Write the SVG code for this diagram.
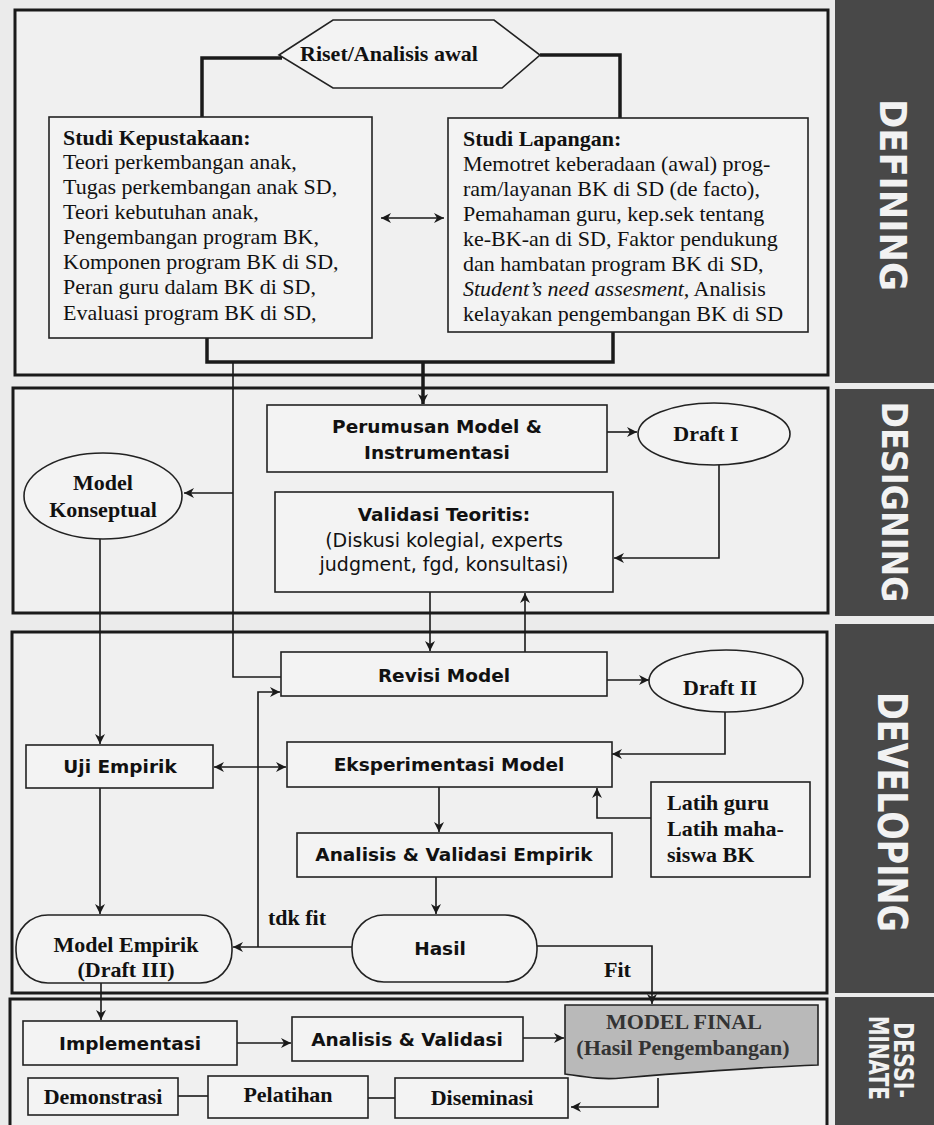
<svg xmlns="http://www.w3.org/2000/svg" width="934" height="1125" viewBox="0 0 934 1125">
<defs>
<style>
.frame{fill:#f0f0f0;stroke:#1a1a1a;stroke-width:3}
.box{fill:#f3f3f3;stroke:#222;stroke-width:1.6}
.ln{fill:none;stroke:#1a1a1a;stroke-width:1.6}
.thick{stroke-width:3.5}
.bar{fill:#484848}
.bt{font-family:"DejaVu Sans",Verdana,sans-serif;font-weight:bold;fill:#f2f2f2}
.s{font-family:"Liberation Serif","Times New Roman",serif;font-size:22px;fill:#111}
.sb{font-family:"Liberation Serif","Times New Roman",serif;font-size:22px;font-weight:bold;fill:#111}
.v{font-family:"DejaVu Sans",Verdana,sans-serif;font-size:18.5px;font-weight:bold;fill:#111}
.vr{font-family:"DejaVu Sans",Verdana,sans-serif;font-size:19px;fill:#111}
.m{text-anchor:middle}
</style>
<marker id="ah" markerUnits="userSpaceOnUse" markerWidth="12" markerHeight="10" refX="10" refY="5" orient="auto-start-reverse">
<path d="M0,0 L10,5 L0,10 L3,5 Z" fill="#1a1a1a"/>
</marker>
</defs>
<rect x="0" y="0" width="934" height="1125" fill="#ebebeb"/>

<g id="phase-bars">
<rect class="bar" x="835" y="0" width="99" height="383"/>
<rect class="bar" x="835" y="389" width="99" height="227"/>
<rect class="bar" x="835" y="624" width="99" height="369"/>
<rect class="bar" x="835" y="997" width="99" height="128"/>
<text class="bt" font-size="38" transform="translate(880,195) rotate(90)" text-anchor="middle" textLength="192" lengthAdjust="spacingAndGlyphs">DEFINING</text>
<text class="bt" font-size="35" transform="translate(882,502) rotate(90)" text-anchor="middle" textLength="201" lengthAdjust="spacingAndGlyphs">DESIGNING</text>
<text class="bt" font-size="40" transform="translate(878,812) rotate(90)" text-anchor="middle" textLength="240" lengthAdjust="spacingAndGlyphs">DEVELOPING</text>
<text class="bt" font-size="26" transform="translate(894,1060) rotate(90)" text-anchor="middle" textLength="76" lengthAdjust="spacingAndGlyphs">DESSI-</text>
<text class="bt" font-size="26" transform="translate(869,1058) rotate(90)" text-anchor="middle" textLength="84" lengthAdjust="spacingAndGlyphs">MINATE</text>
</g>

<g id="phase-frames">
<rect class="frame" x="15" y="10" width="813" height="365"/>
<rect class="frame" x="13" y="388" width="815" height="225"/>
<rect class="frame" x="12" y="632" width="815" height="361"/>
<rect class="frame" x="10" y="999" width="817" height="140"/>
</g>

<g id="connectors">
<path class="ln thick" d="M282,58 H202 V117"/>
<path class="ln thick" d="M540,55 H620 V118"/>
<path class="ln thick" d="M207,338 V362 H613 V332"/>
<path class="ln thick" d="M423,362 V404" marker-end="url(#ah)"/>
<path class="ln" d="M233,362 V677 H281"/>
<path class="ln" d="M233,493 H184" marker-end="url(#ah)"/>
<path class="ln" d="M381,218 H444" marker-start="url(#ah)" marker-end="url(#ah)"/>
<path class="ln" d="M607,432 H637" marker-end="url(#ah)"/>
<path class="ln" d="M719,465 V558 H614" marker-end="url(#ah)"/>
<path class="ln" d="M430,592 V651" marker-end="url(#ah)"/>
<path class="ln" d="M525,652 V593" marker-end="url(#ah)"/>
<path class="ln" d="M100,539 V744" marker-end="url(#ah)"/>
<path class="ln" d="M607,680 H649" marker-end="url(#ah)"/>
<path class="ln" d="M725,712 V754 H612" marker-end="url(#ah)"/>
<path class="ln" d="M214,767 H286" marker-start="url(#ah)" marker-end="url(#ah)"/>
<path class="ln" d="M651,818 H597 V788" marker-end="url(#ah)"/>
<path class="ln" d="M439,787 V832" marker-end="url(#ah)"/>
<path class="ln" d="M436,877 V914" marker-end="url(#ah)"/>
<path class="ln" d="M352,947 H233" marker-end="url(#ah)"/>
<path class="ln" d="M258,947 V692 H280" marker-end="url(#ah)"/>
<path class="ln" d="M100,788 V914" marker-end="url(#ah)"/>
<path class="ln" d="M537,946 H652 V1004" marker-end="url(#ah)"/>
<path class="ln" d="M101,983 V1020" marker-end="url(#ah)"/>
<path class="ln" d="M237,1043 H291" marker-end="url(#ah)"/>
<path class="ln" d="M523,1038 H564" marker-end="url(#ah)"/>
<path class="ln" d="M658,1078 V1107 H571" marker-end="url(#ah)"/>
<path class="ln" d="M178,1096 H208"/>
<path class="ln" d="M368,1098 H395"/>
<text class="sb" x="268" y="925" font-size="21">tdk fit</text>
<text class="sb" x="604" y="977" font-size="21">Fit</text>
</g>

<g id="riset">
<polygon class="box" points="279,55 333,20 494,20 540,55 502,88 333,88"/>
<text class="sb m" x="389" y="61">Riset/Analisis awal</text>
</g>

<g id="studi-kepustakaan">
<rect class="box" x="49" y="117" width="323" height="221"/>
<text class="sb" x="63" y="145">Studi Kepustakaan:</text>
<text class="s" x="63" y="169">Teori perkembangan anak,</text>
<text class="s" x="63" y="194">Tugas perkembangan anak SD,</text>
<text class="s" x="63" y="219">Teori kebutuhan anak,</text>
<text class="s" x="63" y="244">Pengembangan program BK,</text>
<text class="s" x="63" y="269">Komponen program BK di SD,</text>
<text class="s" x="63" y="294">Peran guru dalam BK di SD,</text>
<text class="s" x="63" y="320">Evaluasi program BK di SD,</text>
</g>

<g id="studi-lapangan">
<rect class="box" x="448" y="118" width="360" height="214"/>
<text class="sb" x="463" y="146">Studi Lapangan:</text>
<text class="s" x="463" y="171">Memotret keberadaan (awal) prog-</text>
<text class="s" x="463" y="196">ram/layanan BK di SD (de facto),</text>
<text class="s" x="463" y="221">Pemahaman guru, kep.sek tentang</text>
<text class="s" x="463" y="246">ke-BK-an di SD, Faktor pendukung</text>
<text class="s" x="463" y="271">dan hambatan program BK di SD,</text>
<text class="s" x="463" y="296"><tspan font-style="italic">Student’s need assesment,</tspan> Analisis</text>
<text class="s" x="463" y="321">kelayakan pengembangan BK di SD</text>
</g>

<g id="model-konseptual">
<ellipse class="box" cx="103" cy="496" rx="79" ry="43"/>
<text class="sb m" x="103" y="490">Model</text>
<text class="sb m" x="103" y="517">Konseptual</text>
</g>

<g id="perumusan">
<rect class="box" x="267" y="405" width="340" height="67"/>
<text class="v m" x="437" y="433">Perumusan Model &amp;</text>
<text class="v m" x="437" y="459">Instrumentasi</text>
</g>

<g id="draft-1">
<ellipse class="box" cx="714" cy="434" rx="76" ry="31"/>
<text class="sb m" x="706" y="441">Draft I</text>
</g>

<g id="validasi-teoritis">
<rect class="box" x="275" y="492" width="338" height="100"/>
<text class="v m" x="444" y="521">Validasi Teoritis:</text>
<text class="vr m" x="444" y="547">(Diskusi kolegial, experts</text>
<text class="vr m" x="444" y="571">judgment, fgd, konsultasi)</text>
</g>

<g id="revisi-model">
<rect class="box" x="281" y="652" width="326" height="44"/>
<text class="v m" x="444" y="682">Revisi Model</text>
</g>

<g id="draft-2">
<ellipse class="box" cx="726" cy="681" rx="77" ry="31"/>
<text class="sb m" x="720" y="695">Draft II</text>
</g>

<g id="uji-empirik">
<rect class="box" x="26" y="745" width="187" height="43"/>
<text class="v m" x="120" y="773">Uji Empirik</text>
</g>

<g id="eksperimentasi">
<rect class="box" x="287" y="742" width="325" height="45"/>
<text class="v m" x="449" y="771">Eksperimentasi Model</text>
</g>

<g id="latih">
<rect class="box" x="651" y="782" width="159" height="95"/>
<text class="sb" x="667" y="810">Latih guru</text>
<text class="sb" x="667" y="836">Latih maha-</text>
<text class="sb" x="667" y="862">siswa BK</text>
</g>

<g id="analisis-validasi-empirik">
<rect class="box" x="297" y="833" width="315" height="44"/>
<text class="v m" x="454" y="861">Analisis &amp; Validasi Empirik</text>
</g>

<g id="model-empirik">
<rect class="box" x="16" y="915" width="216" height="68" rx="32" ry="32"/>
<text class="sb m" x="126" y="952">Model Empirik</text>
<text class="sb m" x="126" y="977">(Draft III)</text>
</g>

<g id="hasil">
<rect class="box" x="352" y="915" width="185" height="67" rx="32" ry="32"/>
<text class="v m" x="440" y="955">Hasil</text>
</g>

<g id="implementasi">
<rect class="box" x="23" y="1021" width="214" height="44"/>
<text class="v m" x="130" y="1050">Implementasi</text>
</g>

<g id="analisis-validasi">
<rect class="box" x="292" y="1017" width="231" height="44"/>
<text class="v m" x="407" y="1046">Analisis &amp; Validasi</text>
</g>

<g id="model-final">
<path d="M565,1005 H818 V1065 C740,1068 670,1074 622,1078 C602,1080 586,1077 565,1074 Z" fill="#b9b9b9" stroke="#222" stroke-width="1.6"/>
<text class="sb m" x="684" y="1029" style="fill:#333">MODEL FINAL</text>
<text class="sb m" x="683" y="1055" style="fill:#333">(Hasil Pengembangan)</text>
</g>

<g id="demonstrasi">
<rect class="box" x="28" y="1078" width="150" height="37"/>
<text class="sb m" x="103" y="1104" font-size="21">Demonstrasi</text>
</g>

<g id="pelatihan">
<rect class="box" x="208" y="1076" width="160" height="42"/>
<text class="sb m" x="288" y="1102" font-size="21">Pelatihan</text>
</g>

<g id="diseminasi">
<rect class="box" x="395" y="1078" width="173" height="40"/>
<text class="sb m" x="482" y="1105" font-size="21">Diseminasi</text>
</g>
</svg>
